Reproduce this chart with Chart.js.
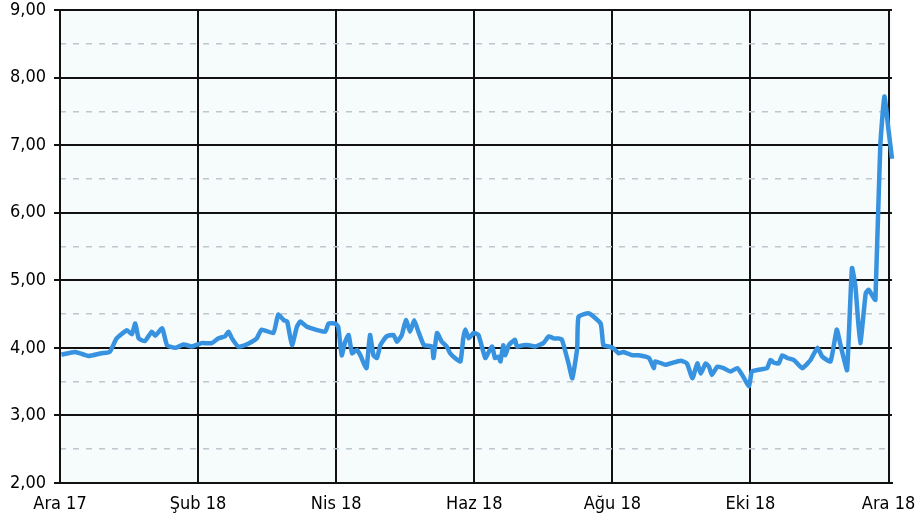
<!DOCTYPE html>
<html>
<head>
<meta charset="utf-8">
<script src="https://cdn.jsdelivr.net/npm/chart.js@4.4.1/dist/chart.umd.min.js"></script>
<style>
  html, body { margin: 0; padding: 0; background: #fff; }
  #wrap { width: 919px; height: 528px; }
</style>
</head>
<body>
<div id="wrap"><canvas id="chart" width="919" height="528"></canvas></div>
<script>
// month ticks, Ara 17 .. Ara 18
const monthLabels = ["Ara 17", "Şub 18", "Nis 18", "Haz 18", "Ağu 18", "Eki 18", "Ara 18"];

// position in months since Ara 17
const months = [
  0.02, 0.22, 0.41, 0.60, 0.72, 0.82, 0.97, 1.04, 1.09, 1.14, 1.23, 1.33, 1.38, 1.48, 1.55,
  1.67, 1.79, 1.91, 2.05, 2.20, 2.29, 2.39, 2.44, 2.49, 2.58, 2.68, 2.78, 2.85, 2.92, 3.09,
  3.16, 3.24, 3.29, 3.36, 3.43, 3.48, 3.58, 3.84, 3.89, 3.99, 4.03, 4.08, 4.13, 4.18, 4.23,
  4.30, 4.35, 4.40, 4.44, 4.49, 4.54, 4.59, 4.64, 4.73, 4.83, 4.88, 4.95, 5.01, 5.07, 5.13,
  5.19, 5.27, 5.34, 5.39, 5.41, 5.46, 5.53, 5.60, 5.65, 5.72, 5.80, 5.84, 5.87, 5.92, 5.99,
  6.06, 6.16, 6.21, 6.26, 6.30, 6.35, 6.38, 6.42, 6.45, 6.50, 6.55, 6.59, 6.62, 6.71, 6.79,
  6.88, 7.00, 7.08, 7.15, 7.22, 7.27, 7.37, 7.42, 7.49, 7.51, 7.66, 7.83, 7.87, 7.95, 8.02,
  8.09, 8.16, 8.29, 8.38, 8.53, 8.60, 8.62, 8.77, 8.84, 8.99, 9.08, 9.16, 9.23, 9.28, 9.35,
  9.40, 9.44, 9.52, 9.61, 9.71, 9.81, 9.88, 9.98, 10.02, 10.14, 10.24, 10.29, 10.34, 10.41, 10.46,
  10.53, 10.63, 10.75, 10.87, 10.97, 11.04, 11.16, 11.25, 11.30, 11.35, 11.40, 11.47, 11.52, 11.59, 11.67,
  11.71, 11.79, 11.81, 11.88, 11.94, 12.00, 12.05
];

const rates = [
  3.90, 3.94, 3.88, 3.92, 3.94, 4.14, 4.26, 4.20, 4.36, 4.14, 4.10, 4.24, 4.18, 4.29, 4.04,
  4.00, 4.05, 4.02, 4.07, 4.07, 4.14, 4.17, 4.24, 4.14, 4.02, 4.04, 4.09, 4.14, 4.27, 4.22,
  4.49, 4.41, 4.39, 4.04, 4.31, 4.39, 4.31, 4.24, 4.36, 4.36, 4.31, 3.89, 4.09, 4.19, 3.92,
  3.97, 3.89, 3.77, 3.70, 4.19, 3.89, 3.85, 4.04, 4.17, 4.19, 4.09, 4.19, 4.41, 4.24, 4.41,
  4.24, 4.04, 4.03, 4.02, 3.85, 4.22, 4.09, 4.02, 3.92, 3.85, 3.80, 4.14, 4.27, 4.14, 4.22,
  4.19, 3.85, 3.94, 4.02, 3.85, 3.87, 3.80, 4.04, 3.89, 4.04, 4.09, 4.12, 4.02, 4.04, 4.04,
  4.02, 4.07, 4.17, 4.14, 4.14, 4.12, 3.75, 3.55, 3.99, 4.46, 4.51, 4.36, 4.04, 4.02, 3.99,
  3.92, 3.94, 3.89, 3.89, 3.85, 3.70, 3.80, 3.75, 3.77, 3.81, 3.77, 3.55, 3.77, 3.62, 3.77,
  3.72, 3.60, 3.72, 3.70, 3.65, 3.70, 3.60, 3.43, 3.65, 3.68, 3.70, 3.82, 3.78, 3.77, 3.89,
  3.85, 3.82, 3.70, 3.82, 4.00, 3.87, 3.80, 4.27, 4.06, 3.85, 3.67, 5.18, 4.91, 4.07, 4.81,
  4.86, 4.73, 4.71, 6.98, 7.72, 7.22, 6.80
];

const yMin = 2;
const yMax = 9;

const plotBackground = {
  id: "plotBackground",
  beforeDraw(chart) {
    const { ctx, chartArea } = chart;
    ctx.save();
    ctx.fillStyle = "#f6fbfb";
    ctx.fillRect(chartArea.left, chartArea.top, chartArea.right - chartArea.left, chartArea.bottom - chartArea.top);
    ctx.restore();
  },
};

const tickFont = { family: "'DejaVu Sans Condensed', 'Liberation Sans', sans-serif", size: 18 };

new Chart(document.getElementById("chart"), {
  type: "line",
  data: {
    datasets: [
      {
        data: months.map((m, i) => ({ x: m, y: rates[i] })),
        borderColor: "#3792e0",
        borderWidth: 4.5,
        pointRadius: 0,
        tension: 0.15,
        clip: false,
      },
    ],
  },
  options: {
    responsive: false,
    animation: false,
    layout: { padding: { left: 0, right: 27, top: 10, bottom: 0 } },
    plugins: { legend: { display: false }, tooltip: { enabled: false } },
    scales: {
      x: {
        type: "linear",
        min: 0,
        max: 12.05,
        afterFit: (scale) => {
          scale.height = 45;
          scale.paddingLeft = 0;
          scale.paddingRight = 0;
        },
        afterBuildTicks: (scale) => {
          scale.ticks = monthLabels.map((_, i) => ({ value: i * 2 }));
        },
        ticks: {
          color: "#000",
          font: tickFont,
          padding: 11,
          maxRotation: 0,
          callback: (value) => monthLabels[Math.round(value / 2)],
        },
        grid: { color: "#111", lineWidth: 2, drawTicks: false },
        border: { color: "#111", width: 2 },
      },
      y: {
        min: yMin,
        max: yMax,
        afterFit: (scale) => {
          scale.width = 60;
          scale.paddingTop = 0;
          scale.paddingBottom = 0;
        },
        ticks: {
          stepSize: 1,
          color: "#000",
          font: tickFont,
          padding: 8,
          callback: (value) => value.toFixed(2).replace(".", ","),
        },
        grid: { color: "#111", lineWidth: 2, tickLength: 6, tickColor: "#111" },
        border: { color: "#111", width: 2 },
      },
      yHalf: {
        position: "left",
        min: yMin,
        max: yMax,
        afterFit: (scale) => {
          scale.width = 0;
          scale.paddingTop = 0;
          scale.paddingBottom = 0;
        },
        ticks: { display: false, stepSize: 0.5 },
        grid: {
          drawTicks: false,
          lineWidth: 1.5,
          color: (ctx) => (Number.isInteger(ctx.tick.value) ? "rgba(0,0,0,0)" : "#bcc8ce"),
        },
        border: { display: false, dash: [6, 7] },
      },
    },
  },
  plugins: [plotBackground],
});
</script>
</body>
</html>
